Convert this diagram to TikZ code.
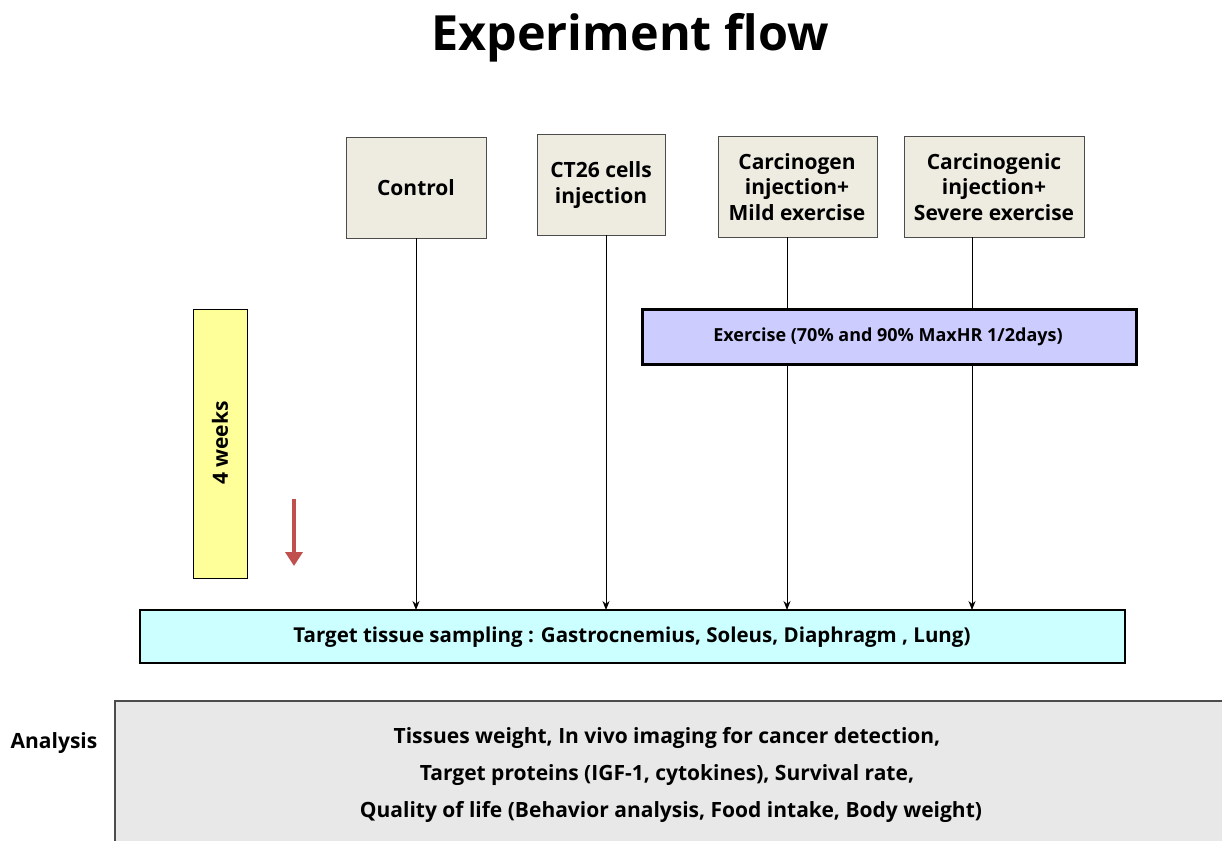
\documentclass[tikz,border=0pt]{standalone}
\usepackage{fontspec}
\setmainfont{Open Sans}
\usetikzlibrary{arrows.meta}
\definecolor{beige}{HTML}{EEECE1}
\definecolor{lav}{HTML}{CCCCFF}
\definecolor{yel}{HTML}{FFFF99}
\definecolor{cyanl}{HTML}{CCFFFF}
\definecolor{greyl}{HTML}{E8E8E8}
\definecolor{redarr}{HTML}{C0504D}
\tikzset{
  grp/.style={draw=black!70, fill=beige, line width=1pt},
  grptext/.style={align=center, font=\fontsize{21}{25.5}\selectfont\bfseries},
  antext/.style={font=\fontsize{21}{24}\selectfont\bfseries},
  conn/.style={-{Stealth[length=9pt,width=7pt]}, line width=1pt},
}
\begin{document}
\begin{tikzpicture}[x=1pt,y=-1pt]
\useasboundingbox[fill=white] (0,0) rectangle (1222,840);
\node[font=\fontsize{48.5}{52}\selectfont\bfseries] (title) at (630,38) {Experiment flow};
% group boxes
\path[grp] (346,137) rectangle (486,238);
\node[grptext] (c1) at (416,188) {Control};
\coordinate (c1b) at (416,238);
\path[grp] (537,134) rectangle (665,235);
\node[grptext] (c2) at (601,185) {CT26 cells\\injection};
\coordinate (c2b) at (606,235);
\path[grp] (718,136) rectangle (877,237);
\node[grptext] (c3) at (797,187) {Carcinogen\\injection+\\Mild exercise};
\coordinate (c3b) at (787,237);
\path[grp] (904,136) rectangle (1084,237);
\node[grptext] (c4) at (994,187) {Carcinogenic\\injection+\\Severe exercise};
\coordinate (c4b) at (972,237);
% target
\path[draw=black, line width=1.5pt, fill=cyanl] (140,610) rectangle (1125,663);
\node[font=\fontsize{20.5}{24}\selectfont\bfseries] (tgt) at (632,637) {Target tissue sampling : Gastrocnemius, Soleus, Diaphragm , Lung)};
\coordinate (t1) at (416,610);
\coordinate (t2) at (606,610);
\coordinate (t3) at (787,610);
\coordinate (t4) at (972,610);
\draw[conn] (c1b) -- (t1);
\draw[conn] (c2b) -- (t2);
\draw[conn] (c3b) -- (t3);
\draw[conn] (c4b) -- (t4);
% exercise
\path[draw=black, line width=3pt, fill=lav] (642,309) rectangle (1136,364);
\node[font=\fontsize{18}{20}\selectfont\bfseries] (ex) at (888,337) {Exercise (70\% and 90\% MaxHR 1/2days)};
% yellow
\path[draw=black, line width=1pt, fill=yel] (193,309) rectangle (247,578);
\node[rotate=90, font=\fontsize{21}{22}\selectfont\bfseries] (wk) at (220,443) {4 weeks};
% red arrow
\coordinate (ra) at (294,499);
\coordinate (rb) at (294,566);
\draw[redarr, line width=4pt, -{Triangle[length=14pt,width=17pt]}] (ra) -- (rb);
% analysis
\node[antext] (an) at (54,743) {Analysis};
\path[draw=black!70, line width=1.2pt, fill=greyl] (115,701) rectangle (1240,860);
\node[antext] (a1) at (667,738) {Tissues weight, In vivo imaging for cancer detection,};
\node[antext] (a2) at (667,775) {Target proteins (IGF-1, cytokines), Survival rate,};
\node[antext] (a3) at (671,812) {Quality of life (Behavior analysis, Food intake, Body weight)};
\end{tikzpicture}
\end{document}
